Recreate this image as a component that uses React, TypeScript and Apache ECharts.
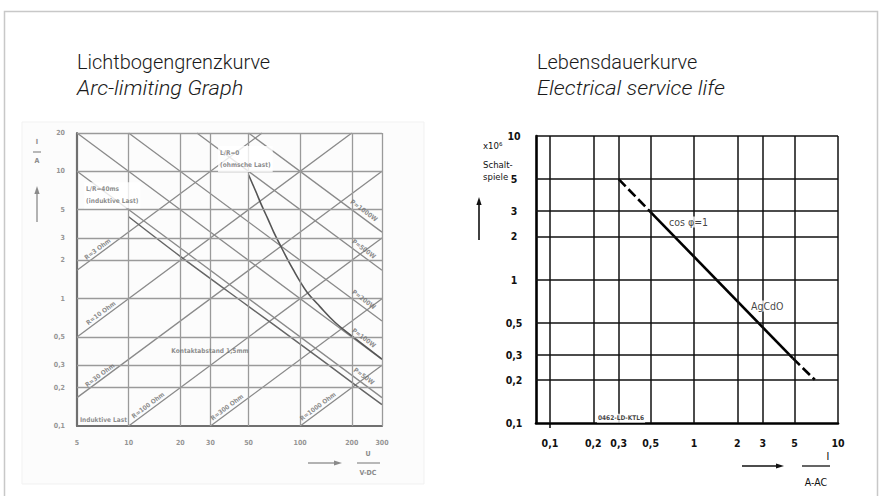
import React, { useEffect, useRef } from "react";
import * as echarts from "echarts";

// ---------- Left: Arc-limiting graph (U in V DC vs I in A) ----------
const arcXTicks = [5, 10, 20, 30, 50, 100, 200, 300];
const arcYTicks = [0.1, 0.2, 0.3, 0.5, 1, 2, 3, 5, 10, 20];
const arcXGrid = [10, 20, 30, 50, 100, 200, 300];
const arcYGrid = [0.2, 0.3, 0.5, 1, 2, 3, 5, 10, 20];

const resistanceNames = ["R=3 Ohm", "R=10 Ohm", "R=30 Ohm", "R=100 Ohm", "R=300 Ohm", "R=1000 Ohm"];
const resistanceLines = [
  [[5, 1.67], [60, 20]],
  [[5, 0.5], [200, 20]],
  [[5, 0.167], [300, 10]],
  [[10, 0.1], [300, 3]],
  [[30, 0.1], [300, 1]],
  [[100, 0.1], [300, 0.3]],
];
const resistanceLabelAt = [[6.6, 2.45], [6.9, 0.77], [6.8, 0.25], [13, 0.145], [37.5, 0.14], [127, 0.142]];

const powerNames = ["P=50W", "P=100W", "P=200W", "P=500W", "P=1000W"];
const powerLines = [
  [[5, 10], [300, 0.167]],
  [[5, 20], [300, 0.333]],
  [[10, 20], [300, 0.667]],
  [[25, 20], [300, 1.67]],
  [[50, 20], [300, 3.33]],
];
const powerLabelAt = [[235, 0.245], [235, 0.49], [235, 0.98], [235, 2.45], [235, 4.9]];

const inductiveCurve = [[10, 4.4], [20, 2.15], [50, 0.87], [100, 0.44], [200, 0.22], [300, 0.147]];
const ohmicCurve = [
  [50, 9.4], [55, 7.0], [60, 5.3], [65, 4.2], [70, 3.35], [78, 2.5], [85, 2.0], [92, 1.65],
  [100, 1.36], [110, 1.12], [130, 0.87], [160, 0.65], [200, 0.51], [300, 0.335],
];

const arcNotes = ["L/R=40ms\n(induktive Last)", "L/R=0\n(ohmsche Last)", "Kontaktabstand 1,5mm", "Induktive Last"];
const arcNotesAt = [[5.5, 6.5], [33.2, 12.5], [29.8, 0.388], [5.2, 0.112]];

// ---------- Right: Electrical service life ----------
const lifeXTicks = [0.1, 0.2, 0.3, 0.5, 1, 2, 3, 5, 10];
const lifeYTicks = [0.1, 0.2, 0.3, 0.5, 1, 2, 3, 5, 10];
const lifeXGrid = [0.1, 0.2, 0.3, 0.5, 1, 2, 3, 5, 10];
const lifeYGrid = [0.2, 0.3, 0.5, 1, 2, 3, 5, 10];
const lifeSolid = [[0.5, 2.95], [4.85, 0.283]];
const lifeDashStart = [[0.3, 5], [0.5, 2.95]];
const lifeDashEnd = [[4.85, 0.283], [6.9, 0.2]];
const lifeNotes = ["cos φ=1", "AgCdO", "0462-LD-KTL6"];
const lifeNotesAt = [[0.661, 2.516], [2.45, 0.654], [0.212, 0.108]];

const TECH = "'DejaVu Sans Condensed', 'DejaVu Sans', sans-serif";
const TITLE = "Roboto, 'Noto Sans', sans-serif";
const SCAN = "#8a8a8a";

const fmt = (v: number) => String(v).replace(".", ",");

function buildOption(): any {
  const series: any[] = [];

  // grid lines, left
  series.push({
    type: "line", xAxisIndex: 0, yAxisIndex: 0, data: [[5, 0.1]], showSymbol: false, silent: true, z: 1,
    lineStyle: { width: 0 },
    markLine: {
      silent: true, symbol: ["none", "none"], label: { show: false }, animation: false,
      lineStyle: { color: "#9a9a9a", width: 1.3, type: "solid" },
      emphasis: { disabled: true },
      data: [...arcXGrid.map((v) => ({ xAxis: v })), ...arcYGrid.map((v) => ({ yAxis: v }))],
    },
  });
  resistanceLines.forEach((d, i) =>
    series.push({
      type: "line", name: resistanceNames[i], xAxisIndex: 0, yAxisIndex: 0, data: d, showSymbol: false,
      silent: true, z: 2, lineStyle: { color: SCAN, width: 1.3 },
    })
  );
  powerLines.forEach((d, i) =>
    series.push({
      type: "line", name: powerNames[i], xAxisIndex: 0, yAxisIndex: 0, data: d, showSymbol: false,
      silent: true, z: 2, lineStyle: { color: SCAN, width: 1.3 },
    })
  );
  series.push({
    type: "line", name: "L/R=40ms", xAxisIndex: 0, yAxisIndex: 0, data: inductiveCurve, showSymbol: false,
    silent: true, z: 3, smooth: 0.3, lineStyle: { color: "#666", width: 1.5 },
  });
  series.push({
    type: "line", name: "L/R=0", xAxisIndex: 0, yAxisIndex: 0, data: ohmicCurve, showSymbol: false,
    silent: true, z: 3, smooth: 0.4, lineStyle: { color: "#555", width: 1.6 },
  });

  const scanLabel = {
    show: true, position: "inside", color: "#707070", fontSize: 6.5, fontFamily: TECH, fontWeight: "bold",
    textBorderWidth: 0, textBorderColor: "transparent", textShadowBlur: 0,
  };
  series.push({
    type: "scatter", xAxisIndex: 0, yAxisIndex: 0, symbolSize: 0.01, silent: true, z: 6,
    itemStyle: { color: "#707070" },
    data: [
      ...resistanceLabelAt.map((p, i) => ({ value: p, label: { ...scanLabel, formatter: resistanceNames[i], rotate: 36.8 } })),
      ...powerLabelAt.map((p, i) => ({ value: p, label: { ...scanLabel, formatter: powerNames[i], rotate: -36.8 } })),
      { value: arcNotesAt[0], label: { ...scanLabel, formatter: arcNotes[0], align: "left", backgroundColor: "#fff", lineHeight: 12, padding: [1, 2] } },
      { value: arcNotesAt[1], label: { ...scanLabel, formatter: arcNotes[1], align: "left", backgroundColor: "#fff", lineHeight: 12, padding: [1, 2] } },
      { value: arcNotesAt[2], label: { ...scanLabel, formatter: arcNotes[2] } },
      { value: arcNotesAt[3], label: { ...scanLabel, formatter: arcNotes[3], align: "left" } },
    ],
  });

  // right chart
  series.push({
    type: "line", xAxisIndex: 1, yAxisIndex: 1, data: [[0.08, 0.1]], showSymbol: false, silent: true, z: 1,
    lineStyle: { width: 0 },
    markLine: {
      silent: true, symbol: ["none", "none"], label: { show: false }, animation: false,
      lineStyle: { color: "#111", width: 1.5, type: "solid" },
      emphasis: { disabled: true },
      data: [...lifeXGrid.map((v) => ({ xAxis: v })), ...lifeYGrid.map((v) => ({ yAxis: v }))],
    },
  });
  series.push({
    type: "line", name: "AgCdO", xAxisIndex: 1, yAxisIndex: 1, data: lifeSolid, showSymbol: false, silent: true, z: 3,
    lineStyle: { color: "#000", width: 2.6 },
  });
  series.push({
    type: "line", xAxisIndex: 1, yAxisIndex: 1, data: lifeDashStart, showSymbol: false, silent: true, z: 3,
    lineStyle: { color: "#000", width: 2.6, type: [10, 4] },
  });
  series.push({
    type: "line", xAxisIndex: 1, yAxisIndex: 1, data: lifeDashEnd, showSymbol: false, silent: true, z: 3,
    lineStyle: { color: "#000", width: 2.6, type: [10, 4] },
  });
  const techLabel = {
    show: true, position: "inside", align: "left", color: "#111", fontSize: 10.5, fontFamily: TECH,
    textBorderWidth: 0, textBorderColor: "transparent", textShadowBlur: 0,
    backgroundColor: "#fff", padding: [0, 1],
  };
  series.push({
    type: "scatter", xAxisIndex: 1, yAxisIndex: 1, symbolSize: 0.01, silent: true, z: 6,
    itemStyle: { color: "#111" },
    data: [
      { value: lifeNotesAt[0], label: { ...techLabel, formatter: lifeNotes[0] } },
      { value: lifeNotesAt[1], label: { ...techLabel, formatter: lifeNotes[1] } },
      { value: lifeNotesAt[2], label: { ...techLabel, formatter: lifeNotes[2], fontSize: 6.5, fontWeight: "bold", padding: [1, 1] } },
    ],
  });

  const arrow = (x1: number, y1: number, x2: number, y2: number, color: string, w: number) => {
    const dx = x2 - x1, dy = y2 - y1;
    const len = Math.hypot(dx, dy);
    const ux = dx / len, uy = dy / len;
    const hl = 8, hw = 2.6;
    const bx = x2 - ux * hl, by = y2 - uy * hl;
    return [
      { type: "line", shape: { x1, y1, x2: bx, y2: by }, style: { stroke: color, lineWidth: w }, silent: true },
      {
        type: "polygon", silent: true,
        shape: { points: [[x2, y2], [bx - uy * hw, by + ux * hw], [bx + uy * hw, by - ux * hw]] },
        style: { fill: color },
      },
    ];
  };
  const txt = (x: number, y: number, text: string, o: any = {}) => ({
    type: "text", x, y, silent: true, scaleX: o.scaleX ?? 1,
    style: {
      text, fill: o.fill ?? "#111", fontSize: o.fontSize ?? 10, fontFamily: o.fontFamily ?? TECH,
      fontWeight: o.fontWeight ?? "normal", fontStyle: o.fontStyle ?? "normal",
      align: o.align ?? "left", verticalAlign: o.verticalAlign ?? "middle",
      textAlign: o.align ?? "left", textVerticalAlign: o.verticalAlign ?? "middle",
    },
  });

  const titleOpt = { fontFamily: TITLE, fontSize: 21, fontWeight: 300, fill: "#1a1a1a", scaleX: 0.95 };
  const italicOpt = { ...titleOpt, fontStyle: "italic", scaleX: 1.04 };
  const graphic: any[] = [
    { type: "rect", silent: true, shape: { x: 4.5, y: 11.5, width: 873, height: 500 }, style: { fill: "none", stroke: "#c8c8c8", lineWidth: 1.5 } },
    { type: "rect", silent: true, shape: { x: 22, y: 122, width: 402, height: 362 }, style: { fill: "#fcfcfc", stroke: "#f1f1f1", lineWidth: 1 }, z: -1 },
    txt(77, 62, "Lichtbogengrenzkurve", titleOpt),
    txt(77, 88, "Arc-limiting Graph", italicOpt),
    txt(537, 62, "Lebensdauerkurve", titleOpt),
    txt(537, 88, "Electrical service life", italicOpt),

    // right y title
    txt(483, 145, "x10⁶", { fontSize: 9.5 }),
    txt(483, 164, "Schalt-", { fontSize: 9.5 }),
    txt(483, 176, "spiele", { fontSize: 9.5 }),
    ...arrow(479, 240, 479, 197, "#111", 1.6),
    // right x title
    ...arrow(742, 466, 784, 466, "#111", 1.6),
    txt(828, 456, "I", { fontSize: 10.5, align: "center", fill: "#000" }),
    { type: "line", silent: true, shape: { x1: 802, y1: 466, x2: 830, y2: 466 }, style: { stroke: "#111", lineWidth: 1.3 } },
    txt(816, 482, "A-AC", { fontSize: 10.5, align: "center" }),

    // left y title
    txt(37, 142, "I", { fontSize: 7, align: "center", fill: SCAN, fontWeight: "bold" }),
    { type: "line", silent: true, shape: { x1: 33, y1: 152, x2: 41, y2: 152 }, style: { stroke: SCAN, lineWidth: 1.2 } },
    txt(37, 161, "A", { fontSize: 7, align: "center", fill: SCAN, fontWeight: "bold" }),
    ...arrow(37, 222, 37, 186, SCAN, 1.3),
    // left x title
    ...arrow(308, 463, 342, 463, SCAN, 1.3),
    txt(368, 454, "U", { fontSize: 7, align: "center", fill: SCAN, fontWeight: "bold" }),
    { type: "line", silent: true, shape: { x1: 357, y1: 463, x2: 380, y2: 463 }, style: { stroke: SCAN, lineWidth: 1.2 } },
    txt(368, 473, "V-DC", { fontSize: 7, align: "center", fill: SCAN, fontWeight: "bold" }),
  ];

  const arcLabelStyle = { color: "#959595", fontSize: 7, fontWeight: "bold", fontFamily: TECH, formatter: fmt };
  const lifeLabelStyle = { color: "#111", fontSize: 10.5, fontWeight: "bold", fontFamily: TECH, formatter: fmt };

  return {
    animation: false,
    backgroundColor: "#fff",
    grid: [
      { left: 77, top: 133, width: 305, height: 293, outerBoundsMode: "none", containLabel: false },
      { left: 536, top: 136, width: 302, height: 287, outerBoundsMode: "none", containLabel: false },
    ],
    xAxis: [
      {
        gridIndex: 0, type: "log", logBase: 10, min: 5, max: 300,
        axisLine: { show: true, lineStyle: { color: "#707070", width: 2.2 } },
        axisTick: { show: false }, splitLine: { show: false }, minorTick: { show: false }, minorSplitLine: { show: false },
        axisLabel: { ...arcLabelStyle, customValues: arcXTicks, margin: 13 },
      },
      {
        gridIndex: 1, type: "log", logBase: 10, min: 0.08, max: 10,
        axisLine: { show: true, lineStyle: { color: "#000", width: 2.6 } },
        axisTick: { show: true, customValues: [0.1], length: 5, lineStyle: { color: "#000", width: 1.5 } },
        splitLine: { show: false }, minorTick: { show: false }, minorSplitLine: { show: false },
        axisLabel: { ...lifeLabelStyle, customValues: lifeXTicks, margin: 14 },
      },
    ],
    yAxis: [
      {
        gridIndex: 0, type: "log", logBase: 10, min: 0.1, max: 20,
        axisLine: { show: true, lineStyle: { color: "#707070", width: 2.2 } },
        axisTick: { show: false }, splitLine: { show: false }, minorTick: { show: false }, minorSplitLine: { show: false },
        axisLabel: { ...arcLabelStyle, customValues: arcYTicks, margin: 12 },
      },
      {
        gridIndex: 1, type: "log", logBase: 10, min: 0.1, max: 10,
        axisLine: { show: true, lineStyle: { color: "#000", width: 2.6 } },
        axisTick: { show: false }, splitLine: { show: false }, minorTick: { show: false }, minorSplitLine: { show: false },
        axisLabel: { ...lifeLabelStyle, customValues: lifeYTicks, margin: 22, align: "center" },
      },
    ],
    series,
    graphic,
  };
}

export default function App() {
  const ref = useRef<HTMLDivElement>(null);
  useEffect(() => {
    if (!ref.current) return;
    const chart = echarts.init(ref.current, null, { renderer: "svg" });
    chart.setOption(buildOption());
    return () => chart.dispose();
  }, []);
  return (
    <div
      ref={ref}
      style={{ position: "fixed", left: 0, top: 0, width: 882, height: 496, background: "#fff" }}
    />
  );
}
